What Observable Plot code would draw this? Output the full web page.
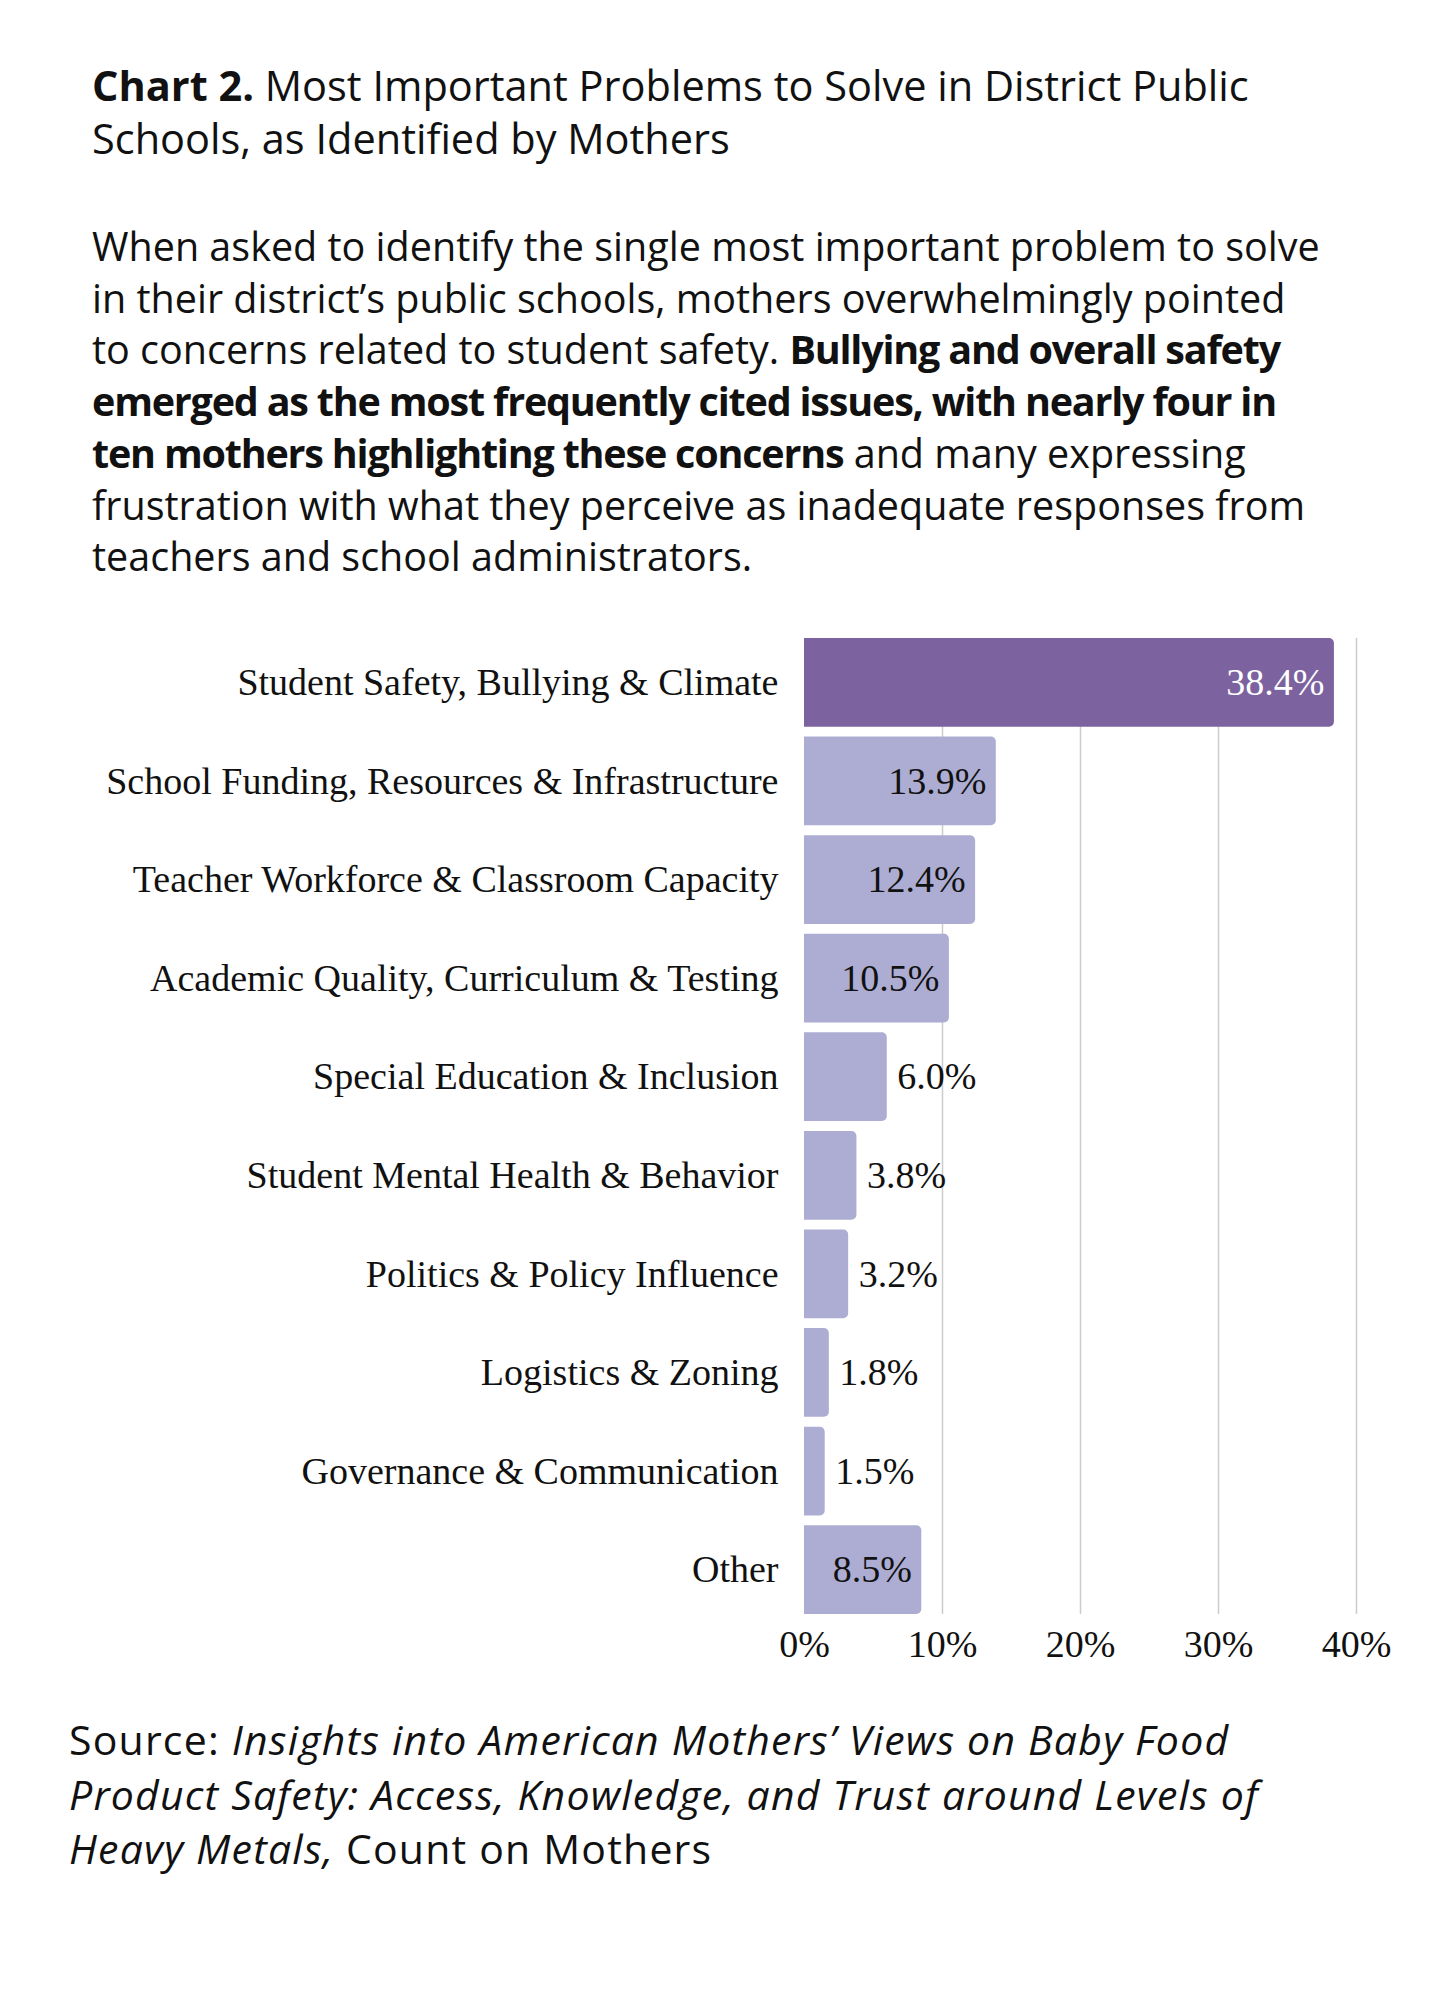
<!DOCTYPE html>
<html>
<head>
<meta charset="utf-8">
<script src="https://cdn.jsdelivr.net/npm/d3@7"></script>
<script src="https://cdn.jsdelivr.net/npm/@observablehq/plot@0.6"></script>
<style>
  html, body { margin: 0; padding: 0; background: #fff; }
  body { width: 1448px; height: 2000px; position: relative; font-family: "Open Sans", Lato, sans-serif; color: #111; }
  .title { position: absolute; left: 92px; top: 59px; width: 1340px; font-size: 41.5px; line-height: 53px; white-space: nowrap; }
  .body { position: absolute; left: 92px; top: 221px; width: 1340px; font-size: 39.5px; line-height: 51.7px; white-space: nowrap; }
  .body b { letter-spacing: -1.2px; }
  .source { position: absolute; left: 69px; top: 1712px; width: 1360px; font-size: 41px; letter-spacing: 1.2px; line-height: 54.5px; white-space: nowrap; }
  #chart { position: absolute; left: 0; top: 610px; }
  #chart svg { overflow: visible; }
</style>
</head>
<body>
<div class="title"><b>Chart 2.</b> Most Important Problems to Solve in District Public<br>Schools, as Identified by Mothers</div>
<div class="body">When asked to identify the single most important problem to solve<br>in their district’s public schools, mothers overwhelmingly pointed<br>to concerns related to student safety. <b>Bullying and overall safety<br>emerged as the most frequently cited issues, with nearly four in<br>ten mothers highlighting these concerns</b> and many expressing<br>frustration with what they perceive as inadequate responses from<br>teachers and school administrators.</div>
<div id="chart"></div>
<div class="source">Source: <i>Insights into American Mothers’ Views on Baby Food<br>Product Safety: Access, Knowledge, and Trust around Levels of<br>Heavy Metals,</i> Count on Mothers</div>
<script>
const categories = [
  "Student Safety, Bullying & Climate",
  "School Funding, Resources & Infrastructure",
  "Teacher Workforce & Classroom Capacity",
  "Academic Quality, Curriculum & Testing",
  "Special Education & Inclusion",
  "Student Mental Health & Behavior",
  "Politics & Policy Influence",
  "Logistics & Zoning",
  "Governance & Communication",
  "Other"
];
const values = [38.4, 13.9, 12.4, 10.5, 6.0, 3.8, 3.2, 1.8, 1.5, 8.5];
const xTicks = [0, 10, 20, 30, 40];
const gridTicks = [10, 20, 30, 40];

const data = categories.map((c, i) => ({category: c, value: values[i], rank: i}));
const inside = data.filter(d => d.value >= 7);
const outside = data.filter(d => d.value < 7);
const fmt = d => d.value.toFixed(1) + "%";
const serif = "'Liberation Serif', 'DejaVu Serif', serif";
const fs = 38;

const chart = Plot.plot({
  width: 1448,
  height: 1064,
  marginLeft: 804,
  marginRight: 92,
  marginTop: 28,
  marginBottom: 60,
  style: {fontFamily: serif, fontSize: fs + "px", color: "#111", background: "transparent"},
  x: {domain: [0, 40], ticks: xTicks, tickFormat: d => d + "%", label: null},
  y: {domain: categories, paddingInner: 0.1, paddingOuter: 0, round: false, label: null},
  marks: [
    Plot.ruleX(gridTicks, {stroke: "#cccccc", strokeWidth: 1.5}),
    Plot.barX(data, {
      x: "value", y: "category", rx2y1: 5, rx2y2: 5,
      fill: d => d.rank === 0 ? "#7d62a0" : "#adadd3"
    }),
    Plot.text(inside, {
      x: "value", y: "category", text: fmt, textAnchor: "end", dx: -10,
      fill: d => d.rank === 0 ? "#ffffff" : "#111111", fontSize: fs
    }),
    Plot.text(outside, {
      x: "value", y: "category", text: fmt, textAnchor: "start", dx: 10,
      fill: "#111111", fontSize: fs
    }),
    Plot.axisX({ticks: xTicks, tickSize: 0, tickPadding: 16, fontSize: fs, tickFormat: d => d + "%"}),
    Plot.axisY({tickSize: 0, tickPadding: 26, fontSize: fs})
  ]
});
document.getElementById("chart").appendChild(chart);
</script>
</body>
</html>
